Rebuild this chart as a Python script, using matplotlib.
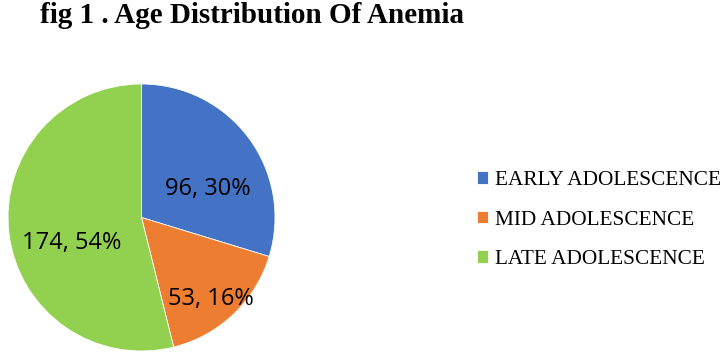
from matplotlib import pyplot as plt

categories = ["EARLY ADOLESCENCE", "MID ADOLESCENCE", "LATE ADOLESCENCE"]
counts = [96, 53, 174]
percents = [30, 16, 54]
colors = ["#4472C4", "#ED7D31", "#92D050"]

fig = plt.figure(figsize=(7.24, 3.55), dpi=100)
ax = fig.add_axes([8 / 724, 4 / 355, 267 / 724, 267 / 355])

wedges, _ = ax.pie(counts, colors=colors, startangle=90, counterclock=False,
                   radius=1, wedgeprops=dict(edgecolor="white", linewidth=0.6))
ax.set_xlim(-1, 1)
ax.set_ylim(-1, 1)
ax.set_aspect("equal")

# label placement (Excel "best fit" style), in axes data units
label_pos = [(0.50, 0.21), (0.52, -0.61), (-0.52, -0.19)]
for (x, y), n, p in zip(label_pos, counts, percents):
    ax.text(x, y, f"{n}, {p}%", ha="center", va="center", fontsize=17,
            family="Open Sans", color="black")

fig.text(0.0552, 0.955, "fig 1 . Age Distribution Of Anemia", ha="left", va="center",
         fontsize=21, fontweight="bold", family="Liberation Serif")

fig.legend(wedges, categories, loc="center left", bbox_to_anchor=(0.632, 0.38),
           frameon=False, prop={"family": "Liberation Serif", "size": 15.3},
           handlelength=0.55, handleheight=0.55, handletextpad=0.3, labelspacing=0.97)

fig.savefig("out.png", dpi=100)
